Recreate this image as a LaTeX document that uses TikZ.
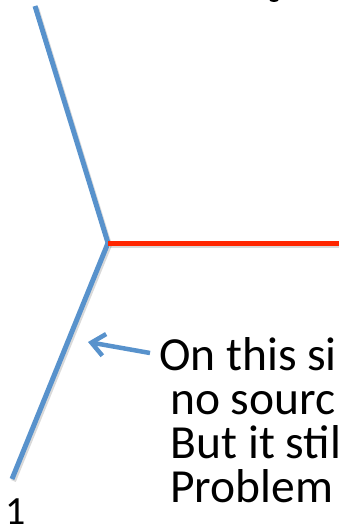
\documentclass[tikz,border=0pt]{standalone}
\usepackage{fontspec}
\setmainfont{Carlito}
\usetikzlibrary{arrows.meta}
\definecolor{bondblue}{RGB}{88,146,204}
\definecolor{tensionred}{RGB}{255,38,0}
\tikzset{
  bond/.style={line width=5pt, line cap=butt, line join=miter},
  bondshadow/.style={line width=5pt, black, opacity=0.15},
  caption/.style={anchor=base west, inner sep=0pt, font=\fontsize{47.5}{44}\selectfont},
  pointer/.style={bondblue, line width=4.5pt, -{Straight Barb[length=13pt,width=22pt]}},
}
\begin{document}
\begin{tikzpicture}[x=1pt,y=-1pt]
\useasboundingbox (0,0) rectangle (339,529);
\clip (0,0) rectangle (339,529);

% junction of the three bonds
\coordinate (top) at (35,6);
\coordinate (joint) at (108,243);
\coordinate (bottom) at (12,479);
\coordinate (right) at (345,243);

% soft drop shadows
\draw[bondshadow] ([shift={(1.5,2)}]top) -- ([shift={(1.5,2)}]joint) -- ([shift={(1.5,2)}]bottom);
\draw[bondshadow] ([shift={(1.5,2)}]joint) -- ([shift={(1.5,2)}]right);

% bonds
\draw[bond, bondblue] (top) -- (joint) -- (bottom);
\draw[bond, tensionred] (joint) -- (right);

% caption text
\node[caption] (l1) at (159,370) {On this si};
\node[caption] (l2) at (170,414) {no sourc};
\node[caption] (l3) at (170.5,458) {But it stil};
\node[caption] (l4) at (170,502) {Problem};
\node[caption, font=\fontsize{40}{44}\selectfont] (pg) at (5,524) {1};

% pointer from the caption to the lower bond
\coordinate (tail) at (150,353);
\coordinate (tip) at (88,342);
\draw[pointer] (tail) -- (tip);

% descender of the heading above
\fill (274,0) ellipse [x radius=4.5, y radius=2];
\end{tikzpicture}
\end{document}
